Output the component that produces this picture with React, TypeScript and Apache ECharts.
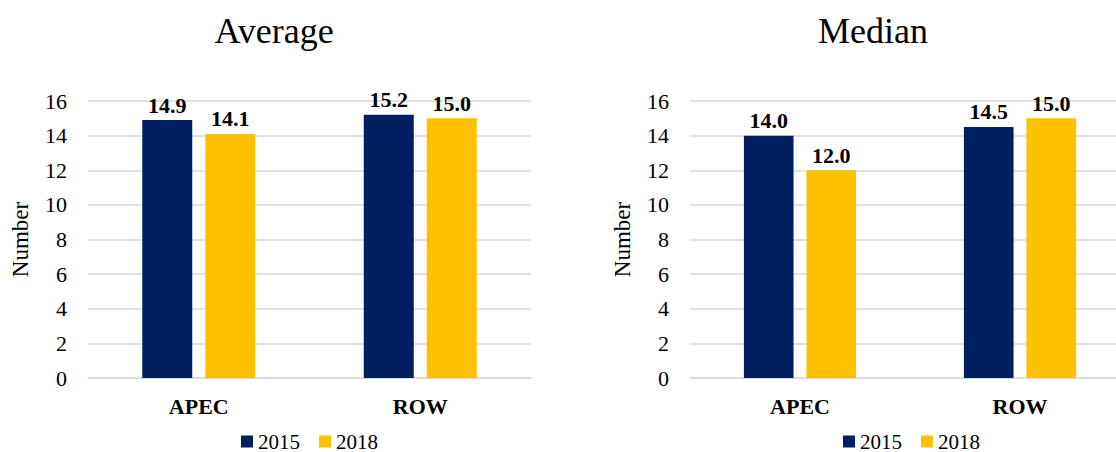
import React, { useEffect, useRef } from "react";
import * as echarts from "echarts";

// Categories and series values
const categories = ["APEC", "ROW"];
const years = ["2015", "2018"];
const average2015 = [14.9, 15.2];
const average2018 = [14.1, 15.0];
const median2015 = [14.0, 14.5];
const median2018 = [12.0, 15.0];
const panelTitles = ["Average", "Median"];
const yAxisName = "Number";

const NAVY = "#002060";
const GOLD = "#FFC000";
const FONT = "Liberation Serif";
const GRID_LINE = "#d9d9d9";

function makeSeries(name: string, data: number[], color: string, idx: number) {
  return {
    name,
    type: "bar",
    xAxisIndex: idx,
    yAxisIndex: idx,
    data,
    barGap: "26%",
    barCategoryGap: "49%",
    itemStyle: { color },
    label: {
      show: true,
      position: "top",
      distance: 4,
      fontFamily: FONT,
      fontWeight: "bold",
      fontSize: 22,
      color: "#000",
      formatter: (p: any) => Number(p.value).toFixed(1),
    },
  };
}

export default function App() {
  const ref = useRef<HTMLDivElement>(null);

  useEffect(() => {
    if (!ref.current) return;
    const chart = echarts.init(ref.current, undefined, { renderer: "svg" });

    const grids = [
      { left: 88, top: 101, width: 443, height: 277 },
      { left: 690, top: 101, width: 440, height: 277 },
    ];

    const xAxes = grids.map((_, i) => ({
      type: "category",
      gridIndex: i,
      data: categories,
      axisTick: { show: false },
      axisLine: { lineStyle: { color: GRID_LINE, width: 1.5 } },
      axisLabel: {
        fontFamily: FONT,
        fontWeight: "bold",
        fontSize: 22,
        color: "#000",
        margin: 17,
      },
    }));

    const yAxes = grids.map((_, i) => ({
      type: "value",
      gridIndex: i,
      min: 0,
      max: 16,
      interval: 2,
      name: yAxisName,
      nameLocation: "middle",
      nameGap: 56,
      nameTextStyle: { fontFamily: FONT, fontSize: 23, color: "#000" },
      axisLine: { show: false },
      axisTick: { show: false },
      axisLabel: { fontFamily: FONT, fontSize: 22, color: "#000", margin: 21 },
      splitLine: { lineStyle: { color: GRID_LINE, width: 1.5 } },
    }));

    const legendBase = {
      data: years,
      icon: "rect",
      itemWidth: 12,
      itemHeight: 12,
      itemGap: 19,
      top: 426,
      textStyle: { fontFamily: FONT, fontSize: 21, color: "#000", lineHeight: 20 },
    };

    chart.setOption({
      animation: false,
      grid: grids,
      xAxis: xAxes,
      yAxis: yAxes,
      legend: [
        { ...legendBase, left: 236 },
        { ...legendBase, left: 838 },
      ],
      graphic: [
        {
          type: "text",
          x: 274,
          y: 31,
          style: {
            text: panelTitles[0],
            font: `36px ${FONT}`,
            fill: "#000",
            textAlign: "center",
            textVerticalAlign: "middle",
          },
        },
        {
          type: "text",
          x: 873,
          y: 31,
          style: {
            text: panelTitles[1],
            font: `36px ${FONT}`,
            fill: "#000",
            textAlign: "center",
            textVerticalAlign: "middle",
          },
        },
      ],
      series: [
        makeSeries(years[0], average2015, NAVY, 0),
        makeSeries(years[1], average2018, GOLD, 0),
        makeSeries(years[0], median2015, NAVY, 1),
        makeSeries(years[1], median2018, GOLD, 1),
      ],
    });

    return () => chart.dispose();
  }, []);

  return (
    <div
      style={{
        position: "fixed",
        left: 0,
        top: 0,
        width: 1116,
        height: 452,
        overflow: "hidden",
        background: "#fff",
      }}
    >
      <div ref={ref} style={{ width: 1140, height: 452 }} />
    </div>
  );
}
